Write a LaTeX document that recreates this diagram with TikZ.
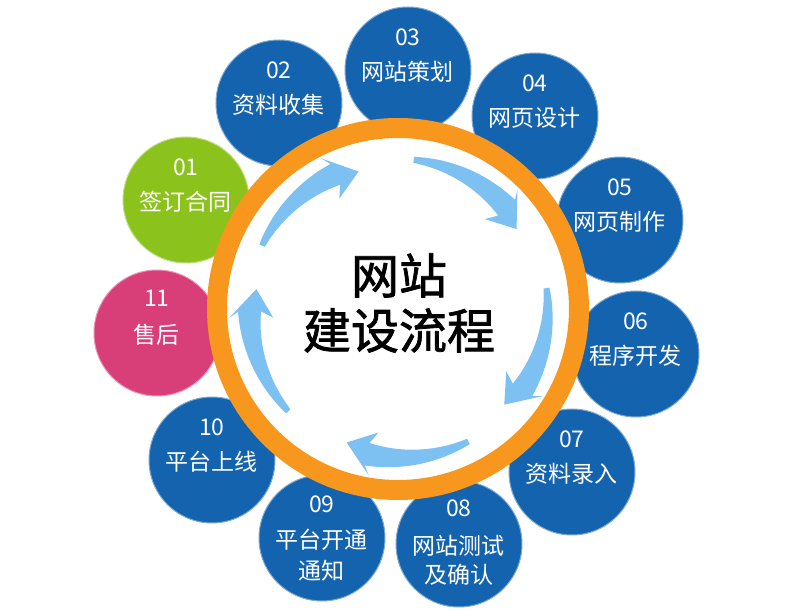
\documentclass[tikz,border=0pt]{standalone}
\usepackage{fontspec}
\newfontfamily\cjk{Noto Sans CJK SC}
\newfontfamily\cjkb[FakeBold=1.6]{Noto Sans CJK SC}
\definecolor{cblue}{HTML}{1463AE}
\definecolor{cgreen}{HTML}{8CC21C}
\definecolor{cpink}{HTML}{D83E78}
\definecolor{corange}{HTML}{F8971D}
\definecolor{arrblue}{HTML}{7DC1F2}
\begin{document}
\begin{tikzpicture}[x=1pt,y=1pt]
\useasboundingbox (-398,-306) rectangle (414,309);
\fill[white] (-398,-306) rectangle (414,309);
\tikzset{
 bub/.style={circle, minimum size=126pt, inner sep=0pt, fill=#1, draw=#1!55!white, line width=1pt},
 num/.style={font=\cjk\fontsize{23}{23}\selectfont, text=white, inner sep=0pt},
 ring/.style={circle, minimum size=362pt, inner sep=0pt, draw=corange, line width=20pt, fill=white},
 title/.style={font=\cjkb\fontsize{48}{55}\selectfont, align=center, text=black, inner sep=0pt},
 arr/.style={fill=arrblue}
}
% circles
\node[bub=cgreen] (c1) at (-212,109) {};
\node[bub=cblue] (c2) at (-119,206) {};
\node[bub=cblue] (c3) at (10,239) {};
\node[bub=cblue] (c4) at (137,193) {};
\node[bub=cblue] (c5) at (222,89) {};
\node[bub=cblue] (c6) at (238,-45) {};
\node[bub=cblue] (c7) at (174,-163) {};
\node[bub=cblue] (c8) at (61,-235) {};
\node[bub=cblue] (c9) at (-76,-229) {};
\node[bub=cblue] (c10) at (-186,-151) {};
\node[bub=cpink] (c11) at (-241,-24) {};
% texts
\node[num] (n1) at ([yshift=33pt]c1.center) {01};
\node[num] (l1) at ([yshift=-2pt]c1.center) {签订合同};
\node[num] (n2) at ([yshift=33pt]c2.center) {02};
\node[num] (l2) at ([yshift=-2pt]c2.center) {资料收集};
\node[num] (n3) at ([yshift=33pt]c3.center) {03};
\node[num] (l3) at ([yshift=-2pt]c3.center) {网站策划};
\node[num] (n4) at ([yshift=33pt]c4.center) {04};
\node[num] (l4) at ([yshift=-2pt]c4.center) {网页设计};
\node[num] (n5) at ([yshift=33pt]c5.center) {05};
\node[num] (l5) at ([yshift=-2pt]c5.center) {网页制作};
\node[num] (n6) at ([yshift=33pt]c6.center) {06};
\node[num] (l6) at ([yshift=-2pt]c6.center) {程序开发};
\node[num] (n7) at ([yshift=33pt]c7.center) {07};
\node[num] (l7) at ([yshift=-2pt]c7.center) {资料录入};
\node[num] (n8) at ([yshift=36pt]c8.center) {08};
\node[num] (l8) at ([yshift=-2pt]c8.center) {网站测试};
\node[num] (m8) at ([yshift=-31pt]c8.center) {及确认};
\node[num] (n9) at ([yshift=34pt]c9.center) {09};
\node[num] (l9) at ([yshift=-2pt]c9.center) {平台开通};
\node[num] (m9) at ([yshift=-33pt]c9.center) {通知};
\node[num] (n10) at ([yshift=33pt]c10.center) {10};
\node[num] (l10) at ([yshift=-2pt]c10.center) {平台上线};
\node[num] (n11) at ([yshift=35pt]c11.center) {11};
\node[num] (l11) at ([yshift=-2pt]c11.center) {售后};
% ring
\node[ring] (r) at (0,0) {};
% arrows
\foreach \T/\P in {155/106, 84/34, 8/-42, -62/-111, 223/172}{
  \pgfmathsetmacro{\N}{\P+9}
  \pgfmathsetmacro{\B}{\P+11}
  \pgfmathsetmacro{\C}{\P+12}
  \fill[arr] plot[domain=\T:\N, samples=30] (\x:{153+7*(\T-\x)/(\T-\N)})
     -- (\B:169) -- (\P:143) -- (\C:125) --
     plot[domain=\N:\T, samples=30] (\x:{137+10*(\x-\N)/(\T-\N)}) -- cycle;
}
\node[title] (t) at (1,6) {网站\\建设流程};
\end{tikzpicture}
\end{document}
